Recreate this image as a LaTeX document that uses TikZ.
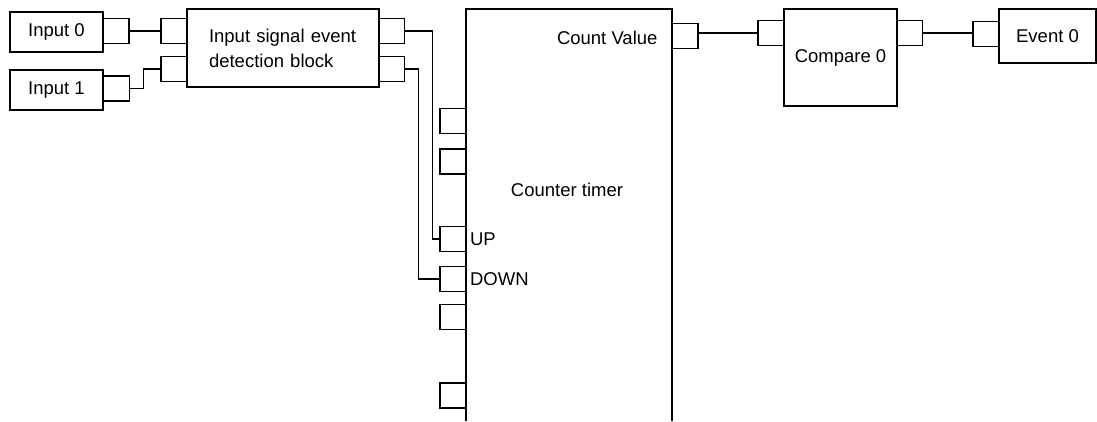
\documentclass[tikz,border=0pt]{standalone}
\usepackage{fontspec}
\setmainfont{Liberation Sans}
\usepackage{tikz}
\usetikzlibrary{positioning, arrows.meta}

\begin{document}
\begin{tikzpicture}[
    x=1pt, y=-1pt,
    font=\fontsize{18.5}{25}\selectfont,
    blk/.style={draw, line width=1.2pt, inner sep=0pt},
    port/.style={draw, line width=1.2pt, minimum width=26, minimum height=25, inner sep=0pt},
    wire/.style={line width=1.2pt}
]
\useasboundingbox (0,0) rectangle (1097,421);

% Inputs
\node[blk, minimum width=93, minimum height=40] (in0) at (56.5,32) {Input 0};
\node[port] (in0p) at (116,31) {};
\node[blk, minimum width=93, minimum height=40] (in1) at (56.5,90) {Input 1};
\node[port] (in1p) at (116.5,88.5) {};

% Event detection block
\node[blk, minimum width=192, minimum height=78, text width=148, align=left] (det) at (283,48) {Input signal event\\detection block};
\node[port] (detL0) at (174,31) {};
\node[port] (detL1) at (174,69) {};
\node[port] (detR0) at (391.5,31) {};
\node[port] (detR1) at (391.5,69) {};

% Counter timer (open at the bottom)
\coordinate (ctrtl) at (466,9);
\coordinate (ctrtr) at (672,9);
\draw[wire] (466,421) -- (ctrtl) -- (ctrtr) -- (672,421);
\node (ctr) at (567,190) {Counter timer};
\node[anchor=east] (cv) at (661,38) {Count Value};
\foreach \y/\n in {121/c1, 161.5/c2, 239/up, 279/down, 317/c5, 395.5/c6}
    \node[port] (\n) at (453,\y) {};
\node[anchor=west] (uplbl) at (up.east) {UP};
\node[anchor=west] (downlbl) at (down.east) {DOWN};
\node[port] (cvp) at (685,36) {};

% Compare and event
\node[blk, minimum width=113, minimum height=97] (cmp) at (840.5,57.5) {Compare 0};
\node[port] (cmpL) at (771,33) {};
\node[port] (cmpR) at (909.5,33) {};
\node[blk, minimum width=97, minimum height=54] (ev) at (1047.5,36) {Event 0};
\node[port] (evL) at (986,34) {};

% Wires
\draw[wire] (in0p.east) -- (detL0.west);
\draw[wire] (in1p.east) -- ++(13,0) |- (detL1.west);
\draw[wire] (detR0.east) -- ++(27,0) |- (up.west);
\draw[wire] (detR1.east) -- ++(13,0) |- (down.west);
\draw[wire] (cmpL.west -| cvp.east) -- (cmpL.west);
\draw[wire] (cmpR.east) -- (cmpR.east -| evL.west);

\end{tikzpicture}
\end{document}
